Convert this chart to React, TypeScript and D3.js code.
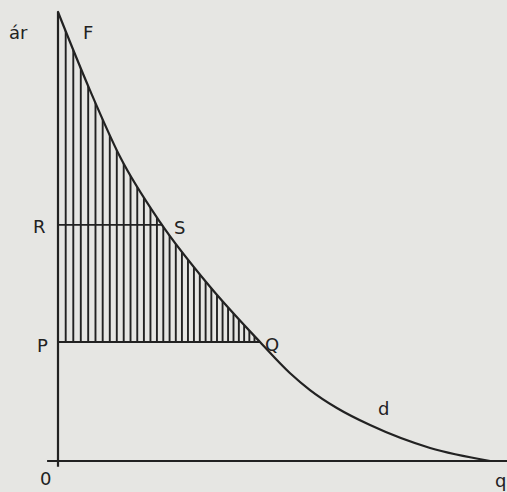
import React, { useEffect, useRef } from 'react';
import * as d3 from 'd3';

// demand curve (quantity, price), both on a 0..100 scale
const quantity = [0, 7.6, 14.8, 24.3, 36.2, 48.1, 55.2, 60, 66.4, 74.3, 88.6, 102.9];
const price = [100, 82.6, 67.7, 53.2, 38.8, 26.5, 19.6, 15.8, 11.8, 8.0, 2.9, 0];

// price levels R and P, and the quantities at S and Q
const levelR = 52.6;
const levelP = 26.5;
const qS = 24.8;
const qQ = 48.1;

const ink = '#222222';

const App = () => {
    const ref = useRef<SVGSVGElement>(null);

    useEffect(() => {
        const width = 507;
        const height = 492;

        const x = d3.scaleLinear().domain([0, 100]).range([58, 478]);
        const y = d3.scaleLinear().domain([0, 100]).range([461, 12]);

        const pts = quantity.map((q, i) => [q, price[i]] as [number, number]);

        const svg = d3.select(ref.current)
            .attr('width', width)
            .attr('height', height);
        svg.selectAll('*').remove();

        svg.append('rect')
            .attr('width', width)
            .attr('height', height)
            .attr('fill', '#e6e6e3');

        const line = d3.line<[number, number]>()
            .x(d => x(d[0]))
            .y(d => y(d[1]))
            .curve(d3.curveMonotoneX);

        const area = d3.area<[number, number]>()
            .x(d => x(d[0]))
            .y0(y(0))
            .y1(d => y(d[1]))
            .curve(d3.curveMonotoneX);

        svg.append('clipPath')
            .attr('id', 'under')
            .append('path')
            .attr('d', area(pts));

        // vertical hatching, a little denser towards Q as in the original
        const hatch: number[] = [];
        let px = x(0);
        while (true) {
            px += 7.7 - 2.7 * (px - x(0)) / (x(qQ) - x(0));
            if (px >= x(qQ)) break;
            hatch.push(x.invert(px));
        }
        svg.append('g')
            .attr('clip-path', 'url(#under)')
            .selectAll('line')
            .data(hatch)
            .join('line')
            .attr('x1', d => x(d))
            .attr('x2', d => x(d))
            .attr('y1', y(levelP))
            .attr('y2', y(100))
            .attr('stroke', ink)
            .attr('stroke-width', 1.9);

        // axes
        svg.append('line')
            .attr('x1', x(0)).attr('x2', x(0))
            .attr('y1', y(100)).attr('y2', y(-1.3))
            .attr('stroke', ink).attr('stroke-width', 2.2);
        svg.append('line')
            .attr('x1', x(-2.6)).attr('x2', width)
            .attr('y1', y(0)).attr('y2', y(0))
            .attr('stroke', ink).attr('stroke-width', 2);

        // price lines
        svg.append('line')
            .attr('x1', x(0)).attr('x2', x(qS))
            .attr('y1', y(levelR)).attr('y2', y(levelR))
            .attr('stroke', ink).attr('stroke-width', 1.8);
        svg.append('line')
            .attr('x1', x(0)).attr('x2', x(qQ))
            .attr('y1', y(levelP)).attr('y2', y(levelP))
            .attr('stroke', ink).attr('stroke-width', 2);

        svg.append('path')
            .datum(pts)
            .attr('d', line)
            .attr('fill', 'none')
            .attr('stroke', ink)
            .attr('stroke-width', 2.2)
            .attr('stroke-linecap', 'round');

        const labels = [
            { t: 'ár', x: 9, y: 39 },
            { t: 'F', x: 83, y: 39 },
            { t: 'R', x: 33, y: 233 },
            { t: 'S', x: 174, y: 234 },
            { t: 'P', x: 37, y: 352 },
            { t: 'Q', x: 265, y: 351 },
            { t: 'd', x: 378, y: 415 },
            { t: '0', x: 40, y: 485 },
            { t: 'q', x: 495, y: 487 },
        ];
        svg.append('g')
            .selectAll('text')
            .data(labels)
            .join('text')
            .attr('x', d => d.x)
            .attr('y', d => d.y)
            .attr('font-family', 'DejaVu Sans, sans-serif')
            .attr('font-size', 18)
            .attr('fill', ink)
            .text(d => d.t);
    }, []);

    return (
        <div style={{ position: 'absolute', left: 0, top: 0 }}>
            <svg ref={ref} style={{ display: 'block' }} />
        </div>
    );
};

export default App;
